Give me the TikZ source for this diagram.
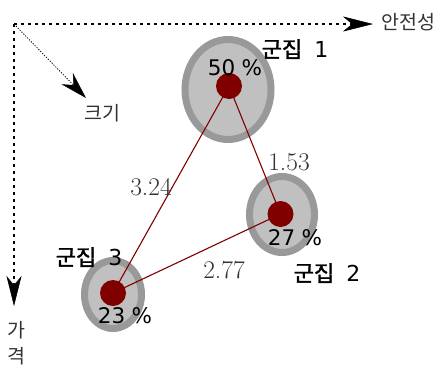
\documentclass[tikz,border=0pt]{standalone}
\usepackage{fontspec}
\usetikzlibrary{arrows.meta,shapes.geometric}
\newfontfamily\kr{Noto Sans CJK KR}
\newfontfamily\krb[FakeBold=1.6]{Noto Sans CJK KR}
\newfontfamily\dv{DejaVu Sans}
\definecolor{ringgray}{HTML}{999999}
\definecolor{fillgray}{HTML}{C0C0C0}
\definecolor{darkred}{HTML}{800000}
\definecolor{txtgray}{HTML}{333333}
\tikzset{
  cluster/.style={ellipse, draw=ringgray, fill=fillgray, line width=7pt, inner sep=0pt},
  dot/.style={circle, fill=darkred, minimum size=26pt, inner sep=0pt},
  link/.style={draw=darkred, line width=1.1pt},
  axis/.style={line width=2.6pt, dash pattern=on 3pt off 4pt, -{Stealth[length=30pt,width=15pt,inset=9pt,line width=0.5pt]}},
  diag/.style={line width=0.8pt, dash pattern=on 1.2pt off 1.5pt, -{Stealth[length=27pt,width=16pt,inset=9pt,line width=0.5pt]}},
  axlabel/.style={text=txtgray, font=\kr\fontsize{19.5}{26}\selectfont, inner sep=0pt, align=center},
  pct/.style={font=\dv\fontsize{21.5}{24}\selectfont, inner sep=0pt},
  cname/.style={font=\fontsize{22}{24}\selectfont, inner sep=0pt},
  dist/.style={text=txtgray, font=\fontsize{25.5}{28}\selectfont, inner sep=0pt}
}
\newcommand{\cn}[1]{{\krb 군집}\hspace{0.55em}{\dv #1}}
\begin{document}
\begin{tikzpicture}[x=1pt,y=-1pt]
\useasboundingbox (0,0) rectangle (442,365);
% axes
\coordinate (o) at (14,24);
\coordinate (xend) at (373,24);
\coordinate (yend) at (14,306);
\coordinate (dend) at (86,98);
\draw[axis] (o) -- (xend);
\draw[axis] (o) -- (yend);
\draw[diag] (o) -- (dend);
\node[axlabel, anchor=west] (xl) at (381,22) {안전성};
\node[axlabel] (dl) at (102,113) {크기};
\node[axlabel] (yl) at (16,343) {가\\격};
% clusters
\node[cluster, minimum width=86pt, minimum height=100pt] (e1) at (228,89.5) {};
\node[cluster, minimum width=65pt, minimum height=76pt] (e2) at (282,214.5) {};
\node[cluster, minimum width=57pt, minimum height=68pt] (e3) at (113,294.5) {};
\coordinate (p1) at (229,86);
\coordinate (p2) at (280.5,214);
\coordinate (p3) at (113,293);
\draw[link] (p1) -- (p2);
\draw[link] (p1) -- (p3);
\draw[link] (p3) -- (p2);
\node[dot] (d1) at (p1) {};
\node[dot] (d2) at (p2) {};
\node[dot] (d3) at (p3) {};
% labels
\node[pct] (t1) at (235,68) {50\hspace{0.3em}\%};
\node[pct] (t2) at (295,238) {27\hspace{0.3em}\%};
\node[pct] (t3) at (125,316) {23\hspace{0.3em}\%};
\node[cname] (n1) at (295,49) {\cn{1}};
\node[cname] (n2) at (327,273) {\cn{2}};
\node[cname] (n3) at (89,257) {\cn{3}};
\node[dist] (l13) at (151,187) {3.24};
\node[dist] (l12) at (289,162) {1.53};
\node[dist] (l23) at (224,270) {2.77};
\end{tikzpicture}
\end{document}
